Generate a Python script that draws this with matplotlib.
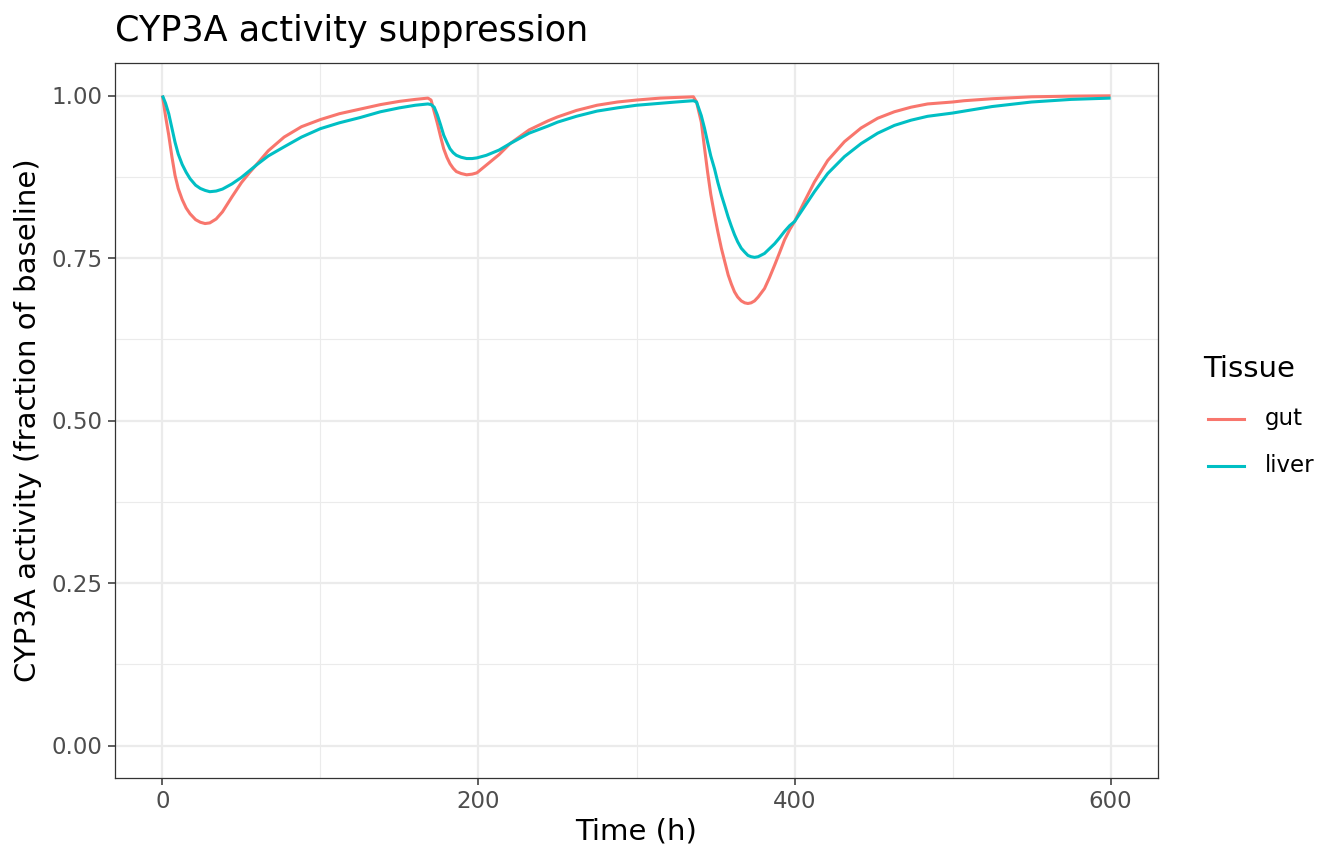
#!/usr/bin/env python3
"""CYP3A activity suppression over three dosing cycles, gut vs liver (ggplot theme_bw look)."""
import matplotlib
matplotlib.use("Agg")
import matplotlib.pyplot as plt
from matplotlib.lines import Line2D
from matplotlib.ticker import MultipleLocator

# values
time_h = [0, 2, 4, 6, 8, 10, 12.5, 15, 17.5, 21, 24, 27, 30, 34, 38, 44, 50, 55, 60,
          67, 77, 88, 100, 112, 125, 138, 150, 160, 168,
          170, 172, 174, 176, 178, 180, 182, 184, 186, 189, 192.5, 196, 199, 205, 213,
          220, 232, 244, 250, 262, 275, 288, 300, 315, 325, 336,
          338, 341, 343, 345, 347, 349.4, 351.5, 353.7, 356, 358, 360, 362, 364, 366.3,
          368.5, 370.5, 372.5, 374.7, 377, 381, 384, 387.4, 390.5, 393.7, 397, 400,
          406.3, 412.6, 421, 431.6, 442.1, 452.6, 463.2, 473.7, 484.2, 500, 507.4,
          525, 550, 575, 600]
gut = [1.000, 0.968, 0.939, 0.906, 0.877, 0.857, 0.840, 0.827, 0.818, 0.809, 0.805,
       0.803, 0.804, 0.810, 0.821, 0.844, 0.866, 0.881, 0.895,
       0.915, 0.936, 0.952, 0.963, 0.972, 0.979, 0.986, 0.991, 0.994, 0.996,
       0.993, 0.975, 0.957, 0.937, 0.918, 0.905, 0.895, 0.888, 0.883, 0.880, 0.878,
       0.879, 0.881, 0.893, 0.909,
       0.926, 0.947, 0.961, 0.967, 0.977, 0.985, 0.990, 0.993, 0.996, 0.997, 0.998,
       0.990, 0.959, 0.920, 0.882, 0.848, 0.816, 0.790, 0.765, 0.743, 0.724, 0.710,
       0.698, 0.690, 0.684,
       0.681, 0.680, 0.681, 0.684, 0.690, 0.703, 0.719, 0.739, 0.758, 0.778, 0.794,
       0.806,
       0.837, 0.867, 0.900, 0.929, 0.950, 0.965, 0.975, 0.982, 0.987, 0.990, 0.992,
       0.995, 0.998, 0.999, 0.9995]
liver = [1.000, 0.988, 0.972, 0.950, 0.928, 0.910, 0.894, 0.882, 0.872, 0.862, 0.857,
         0.854, 0.852, 0.853, 0.856, 0.864, 0.874, 0.884, 0.894,
         0.907, 0.921, 0.936, 0.949, 0.958, 0.966, 0.975, 0.981, 0.985, 0.987,
         0.986, 0.982, 0.970, 0.955, 0.939, 0.928, 0.918, 0.912, 0.908, 0.905, 0.903,
         0.903, 0.904, 0.908, 0.916,
         0.926, 0.942, 0.953, 0.959, 0.968, 0.976, 0.981, 0.985, 0.988, 0.990, 0.992,
         0.990, 0.969, 0.950, 0.928, 0.907, 0.887, 0.866, 0.847, 0.829, 0.813, 0.799,
         0.786, 0.775, 0.765,
         0.759, 0.754, 0.752, 0.751, 0.752, 0.757, 0.764, 0.772, 0.781, 0.791, 0.800,
         0.806,
         0.829, 0.852, 0.880, 0.906, 0.926, 0.942, 0.954, 0.962, 0.968, 0.973, 0.976,
         0.983, 0.990, 0.994, 0.996]

series = {"gut": (gut, "#F8766D"), "liver": (liver, "#00BFC4")}
x_ticks = [0, 200, 400, 600]
y_ticks = [0.00, 0.25, 0.50, 0.75, 1.00]
y_tick_labels = ["0.00", "0.25", "0.50", "0.75", "1.00"]

W, H = 1344, 864
BASE = 21.0   # axis / legend titles, pt
SMALL = 16.5  # tick labels and legend keys, pt

fig = plt.figure(figsize=(W / 100, H / 100), dpi=100)
fig.patch.set_facecolor("white")

# panel box in pixels: left 115, right 1158, top 63, bottom 778
ax = fig.add_axes([115 / W, 1 - 778 / H, (1158 - 115) / W, (778 - 63) / H])
ax.set_facecolor("white")

for name, (vals, col) in series.items():
    ax.plot(time_h, vals, color=col, lw=2.2, solid_capstyle="butt", zorder=3)

ax.set_xlim(-30, 630)
ax.set_ylim(-0.05, 1.05)
ax.set_xticks(x_ticks)
ax.set_yticks(y_ticks)
ax.set_yticklabels(y_tick_labels)
ax.xaxis.set_minor_locator(MultipleLocator(100))
ax.yaxis.set_minor_locator(MultipleLocator(0.125))

ax.grid(which="major", color="#EBEBEB", lw=1.6, zorder=0)
ax.grid(which="minor", color="#EBEBEB", lw=0.8, zorder=0)
ax.set_axisbelow(True)
ax.tick_params(which="major", length=5, width=1.1, color="#333333",
               labelsize=SMALL, labelcolor="#4D4D4D", pad=4)
ax.tick_params(which="minor", length=0)
for sp in ax.spines.values():
    sp.set_color("#333333")
    sp.set_linewidth(0.9)

ax.set_xlabel("Time (h)", fontsize=BASE, labelpad=3)
ax.set_ylabel("CYP3A activity (fraction of baseline)", fontsize=BASE, labelpad=7)

fig.text(115 / W, 1 - 41 / H, "CYP3A activity suppression", fontsize=BASE * 1.2,
         ha="left", va="baseline")

# legend, drawn by hand to sit where ggplot puts it
fig.text(1203 / W, 1 - 377 / H, "Tissue", fontsize=BASE, ha="left", va="baseline")
for i, (name, (vals, col)) in enumerate(series.items()):
    yy = 1 - (419 + 47 * i) / H
    fig.add_artist(Line2D([1208 / W, 1244 / W], [yy, yy], color=col, lw=2.2,
                          transform=fig.transFigure))
    fig.text(1265 / W, yy, name, fontsize=SMALL, ha="left", va="center")

fig.savefig("out.png", dpi=100, facecolor="white")
